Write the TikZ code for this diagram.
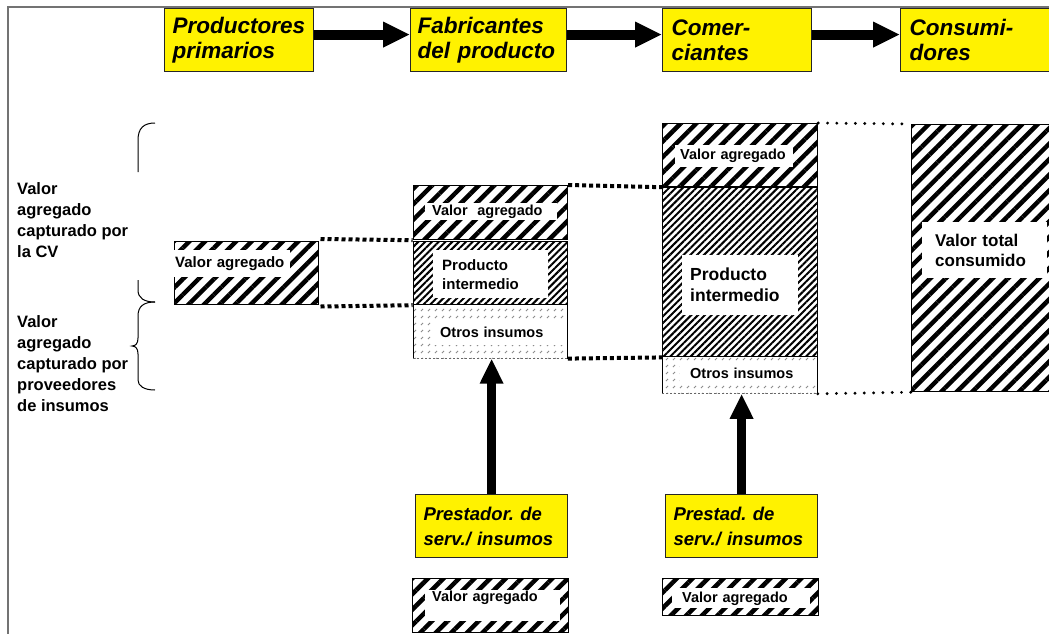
\documentclass[tikz,border=0pt]{standalone}
\usepackage{fontspec}
\setmainfont{Liberation Sans}
\frenchspacing
\usetikzlibrary{patterns, patterns.meta}
\usetikzlibrary{arrows.meta}
\usetikzlibrary{shapes,positioning}

\pgfdeclarepatternformonly{insumo-slash}{\pgfqpoint{0pt}{0pt}}{\pgfqpoint{7pt}{7pt}}{\pgfqpoint{7pt}{7pt}}{%
  \pgfsetlinewidth{0.9pt}%
  \pgfpathmoveto{\pgfqpoint{1pt}{1pt}}%
  \pgfpathlineto{\pgfqpoint{3.5pt}{3.5pt}}%
  \pgfusepath{stroke}%
}

\tikzset{>=latex}
\tikzset{chainbox/.style={draw=black!85, line width=1.2pt, fill=yellow, anchor=north west, inner xsep=8pt, inner ysep=0pt, align=left, font=\bfseries\itshape\fontsize{22.5}{25}\selectfont}}
\tikzset{addbox/.style={draw, line width=1.2pt, anchor=north west, inner sep=0pt, pattern={Lines[angle=45,distance=11pt,line width=4.5pt]}}}
\tikzset{interbox/.style={draw, line width=1.2pt, anchor=north west, inner sep=0pt, pattern={Lines[angle=45,distance=4.8pt,line width=2pt]}}}
\tikzset{inputbox/.style={anchor=north west, inner sep=0pt, pattern=insumo-slash, pattern color=black!45}}
\tikzset{tag/.style={fill=white, anchor=north west, inner ysep=0pt, align=left, font=\bfseries\fontsize{14.5}{17}\selectfont}}
\tikzset{sidenote/.style={anchor=west, inner sep=0pt, align=left, font=\bfseries\fontsize{16.5}{21}\selectfont}}
\tikzset{flow/.style={-{Triangle[length=27pt,width=24pt]}, line width=10pt}}
\tikzset{feed/.style={-{Triangle[length=25pt,width=22pt]}, line width=9pt}}
\tikzset{sqdots/.style={line width=4pt, dash pattern=on 4pt off 3pt}}
\tikzset{rnddots/.style={line width=3.2pt, line cap=round, dash pattern=on 0pt off 9.3pt}}
\tikzset{brace-line/.style={line width=1pt}}

\begin{document}
\begin{tikzpicture}[x=1pt, y=-1pt]
            \useasboundingbox (0,0) rectangle (1049,633);
            \clip (0,0) rectangle (1049,633);
            \draw[black!55, line width=2pt] (8,640) -- (8,7) -- (1060,7);

            \node[chainbox, minimum width=149pt, minimum height=63pt, text width=133pt] (prod) at (164,8) {Productores\\primarios};
            \node[chainbox, minimum width=156pt, minimum height=63pt, text width=142pt, inner xsep=7pt] (fab) at (410,8) {Fabricantes\\del producto};
            \node[chainbox, minimum width=149pt, minimum height=63pt, text width=131pt, inner xsep=9pt] (com) at (662,8) {Comer-\\ciantes};
            \node[chainbox, minimum width=170pt, minimum height=63pt, text width=152pt, inner xsep=9pt] (cons) at (900,8) {Consumi-\\dores};

            \draw[flow] ([yshift=5.5pt]prod.east) -- ([yshift=5.5pt]fab.west);
            \draw[flow] ([yshift=5.5pt]fab.east) -- ([yshift=5.5pt]com.west);
            \draw[flow] ([yshift=5.5pt]com.east) -- ([yshift=5.5pt]cons.west);

            \node[addbox, minimum width=144pt, minimum height=63pt] (lva) at (172,239) {};

            \node[addbox, minimum width=154pt, minimum height=54pt] (mva) at (413,185) {};
            \node[interbox, minimum width=154pt, minimum height=63pt, below=0pt of mva] (mpi) {};
            \node[inputbox, minimum width=154pt, minimum height=53pt, below=0pt of mpi] (moi) {};

            \node[addbox, minimum width=155pt, minimum height=63pt] (cva) at (662,123) {};
            \node[interbox, minimum width=155pt, minimum height=169pt, below=0pt of cva] (cpi) {};
            \node[inputbox, minimum width=155pt, minimum height=36pt, below=0pt of cpi] (coi) {};

            \node[addbox, minimum width=160pt, minimum height=267pt] (total) at (911,124) {};

            \draw[line width=1.2pt] (moi.north west) -- (moi.south west);
            \draw[line width=1.2pt] (moi.north east) -- (moi.south east);
            \draw[black!60, line width=0.8pt, dash pattern=on 2pt off 2pt] (moi.south west) -- (moi.south east);
            \draw[line width=1.2pt] (coi.north west) -- (coi.south west);
            \draw[line width=1.2pt] (coi.north east) -- (coi.south east);
            \draw[black!60, line width=0.8pt, dash pattern=on 2pt off 2pt] (coi.south west) -- (coi.south east);

            \node[tag, font=\bfseries\fontsize{15}{17}\selectfont, minimum width=117pt, minimum height=27pt, inner xsep=2pt, text width=113pt] (lvat) at (173,250) {Valor agregado};
            \node[tag, minimum width=132pt, minimum height=17pt, inner xsep=7pt, text width=118pt] (mvat) at (425,203) {Valor~~agregado};
            \node[tag, font=\bfseries\fontsize{15}{19}\selectfont, minimum width=115pt, minimum height=48pt, inner xsep=9pt, text width=97pt] (mpit) at (433,250) {Producto\\intermedio};
            \node[tag, minimum width=134pt, minimum height=25pt, inner xsep=7pt, text width=120pt] (moit) at (433,320) {Otros insumos};
            \node[tag, minimum width=118pt, minimum height=22pt, inner xsep=5pt, text width=108pt] (cvat) at (675,145) {Valor agregado};
            \node[tag, font=\bfseries\fontsize{17.5}{21}\selectfont, minimum width=116pt, minimum height=60pt, inner xsep=8pt, text width=100pt] (cpit) at (682,255) {Producto\\intermedio};
            \node[tag, minimum width=137pt, minimum height=20pt, inner xsep=10pt, text width=117pt] (coit) at (680,363) {Otros insumos};
            \node[tag, font=\bfseries\fontsize{17}{20}\selectfont, minimum width=125pt, minimum height=56pt, inner xsep=13pt, text width=99pt] (totalt) at (922,222) {Valor total\\consumido};

            \draw[sqdots] (lva.north east) -- (mpi.north west);
            \draw[sqdots] (lva.south east) -- (mpi.south west);
            \draw[sqdots] (mva.north east) -- (cpi.north west);
            \draw[sqdots] (moi.south east) -- (coi.north west);
            \draw[rnddots] (cva.north east) -- (total.north west);
            \draw[rnddots] (coi.south east) -- (total.south west);

            \node[chainbox, font=\bfseries\itshape\fontsize{18.5}{25}\selectfont, minimum width=152pt, minimum height=63pt, text width=136pt] (prest1) at (415,494) {Prestador. de\\serv./ insumos};
            \node[chainbox, font=\bfseries\itshape\fontsize{18.5}{25}\selectfont, minimum width=152pt, minimum height=63pt, text width=136pt] (prest2) at (665,494) {Prestad. de\\serv./ insumos};

            \draw[feed] (prest1.north) -- (prest1.north |- moi.south);
            \draw[feed] (prest2.north) -- (prest2.north |- coi.south);

            \node[addbox, minimum width=156pt, minimum height=54pt] (bva1) at (412,578) {};
            \node[addbox, minimum width=156pt, minimum height=37pt] (bva2) at (662,578) {};
            \node[tag, inner xsep=7pt, inner ysep=1pt, text width=121pt, text height=10pt, text depth=19pt] (bva1t) at (425,590) {Valor agregado};
            \node[tag, inner xsep=10pt, text width=118pt, text height=14pt, text depth=6pt] (bva2t) at (672,588) {Valor agregado};

            \draw[brace-line] (155,123) .. controls (144,123) and (138,128) .. (138,140) -- (138,172);
            \draw[brace-line] (138,280) -- (138,290) .. controls (138,298) and (144,302) .. (155,302);
            \draw[brace-line] (155,302) .. controls (144,302) and (138,306) .. (138,316) -- (138,338) .. controls (138,343) and (136,346) .. (132,346) .. controls (136,346) and (138,349) .. (138,354) -- (138,380) .. controls (138,386) and (144,390) .. (155,390);

            \node[sidenote] (cvnote) at (17,220) {Valor\\agregado\\capturado por\\la CV};
            \node[sidenote] (insnote) at (17,364) {Valor\\agregado\\capturado por\\proveedores\\de insumos};
\end{tikzpicture}
\end{document}
